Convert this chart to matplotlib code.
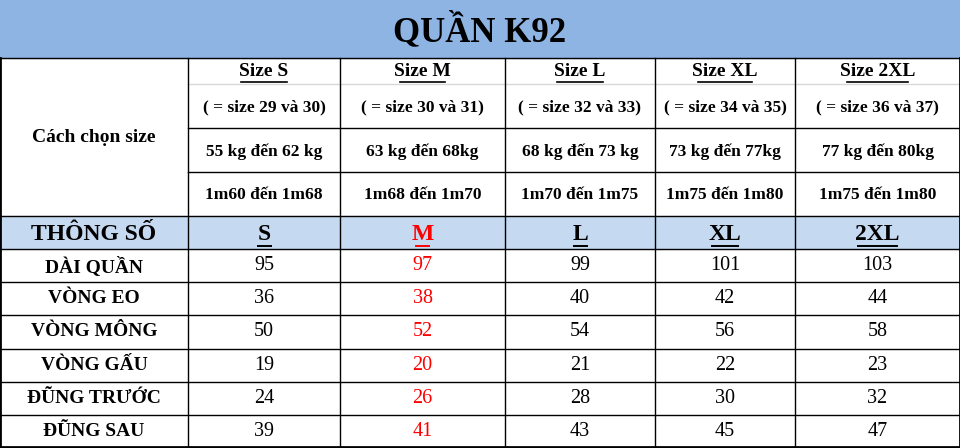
import matplotlib
matplotlib.use("Agg")
import matplotlib.pyplot as plt
from matplotlib.patches import Rectangle

title = "QUẦN K92"
sizes = ["Size S", "Size M", "Size L", "Size XL", "Size 2XL"]
equiv = ["( = size 29 và 30)", "( = size 30 và 31)", "( = size 32 và 33)", "( = size 34 và 35)", "( = size 36 và 37)"]
weights = ["55 kg đến 62 kg", "63 kg đến 68kg", "68 kg đến 73 kg", "73 kg đến 77kg", "77 kg đến 80kg"]
heights = ["1m60 đến 1m68", "1m68 đến 1m70", "1m70 đến 1m75", "1m75 đến 1m80", "1m75 đến 1m80"]
size_codes = ["S", "M", "L", "XL", "2XL"]
measures = ["DÀI QUẦN", "VÒNG EO", "VÒNG MÔNG", "VÒNG GẤU", "ĐŨNG TRƯỚC", "ĐŨNG SAU"]
values = [
    [95, 97, 99, 101, 103],
    [36, 38, 40, 42, 44],
    [50, 52, 54, 56, 58],
    [19, 20, 21, 22, 23],
    [24, 26, 28, 30, 32],
    [39, 41, 43, 45, 47],
]
highlight_col = 1

W, H = 960, 448
fig = plt.figure(figsize=(9.6, 4.48), dpi=100)
ax = fig.add_axes([0, 0, 1, 1])
ax.set_xlim(0, W); ax.set_ylim(H, 0); ax.axis("off")
FONT = "Liberation Serif"

xs = [0, 188, 340, 505, 655, 795, 960]
ax.add_patch(Rectangle((0, 0), W, 58, color="#8DB4E2"))
ax.text(W / 2, 31, title, ha="center", va="center", fontsize=25, fontweight="bold", family=FONT)

ax.add_patch(Rectangle((0, 216), W, 33, color="#C5D9F1"))
ry = [249 + i * 33.2 for i in range(len(measures) + 1)]

lw = 1.0
for y in [58, 216, 249]:
    ax.plot([0, W], [y, y], color="black", lw=lw)
for y in [128, 172]:
    ax.plot([188, W], [y, y], color="black", lw=lw)
ax.plot([188, W], [84, 84], color="#D8D8D8", lw=1)
for y in ry[1:-1]:
    ax.plot([0, W], [y, y], color="black", lw=lw)
for x in xs[1:-1]:
    ax.plot([x, x], [58, H], color="black", lw=lw)
ax.plot([0, 0], [58, H], color="black", lw=2)
ax.plot([W, W], [58, H], color="black", lw=2)
ax.plot([0, W], [H - 0.5, H - 0.5], color="black", lw=2)

ax.text(94, 138, "Cách chọn size", ha="center", va="center", fontsize=14, fontweight="bold", family=FONT)
ax.text(94, 234, "THÔNG SỐ", ha="center", va="center", fontsize=17, fontweight="bold", family=FONT)
for j in range(5):
    cx = (xs[j + 1] + xs[j + 2]) / 2
    ax.text(cx, 72, sizes[j], ha="center", va="center", fontsize=14, fontweight="bold", family=FONT)
    tw = len(sizes[j]) * 7.6
    ax.plot([cx - tw / 2, cx + tw / 2], [82, 82], color="black", lw=1.2)
    ax.text(cx, 107, equiv[j], ha="center", va="center", fontsize=12.5, fontweight="bold", family=FONT)
    ax.text(cx, 152, weights[j], ha="center", va="center", fontsize=12.5, fontweight="bold", family=FONT)
    ax.text(cx, 195, heights[j], ha="center", va="center", fontsize=12.5, fontweight="bold", family=FONT)
    col = "#FF0000" if j == highlight_col else "black"
    ax.text(cx, 234, size_codes[j], ha="center", va="center", fontsize=17, fontweight="bold", family=FONT, color=col)
    tw2 = len(size_codes[j]) * 13
    ax.plot([cx - tw2 / 2, cx + tw2 / 2], [246, 246], color=col, lw=1.4)
for i, m in enumerate(measures):
    cy = (ry[i] + ry[i + 1]) / 2
    ax.text(94, cy, m, ha="center", va="center", fontsize=14, fontweight="bold", family=FONT)
    for j in range(5):
        cx = (xs[j + 1] + xs[j + 2]) / 2
        col = "#FF0000" if j == highlight_col else "black"
        ax.text(cx, cy, str(values[i][j]), ha="center", va="center", fontsize=14.5, family=FONT, color=col)

fig.savefig("out.png", dpi=100)
